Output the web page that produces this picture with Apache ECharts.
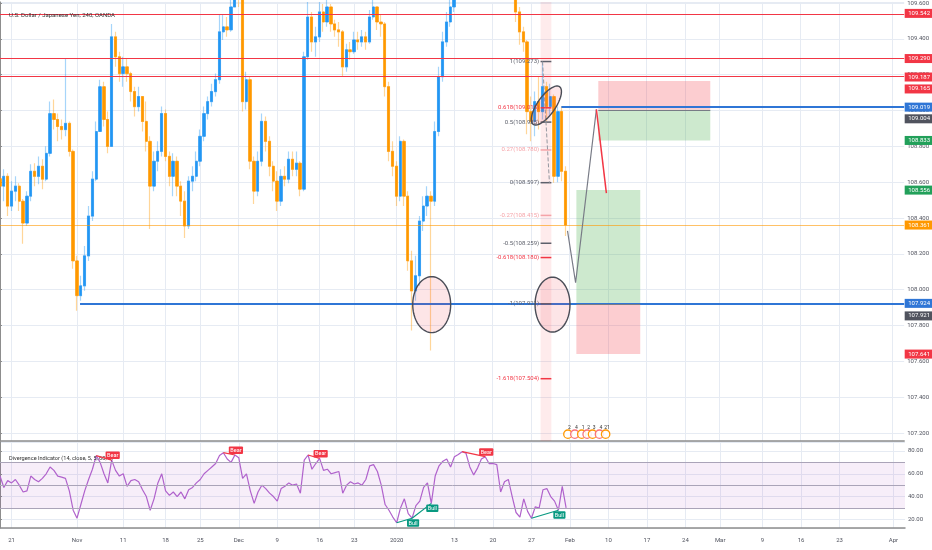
<!DOCTYPE html>
<html>
<head>
<meta charset="utf-8">
<script src="https://cdn.jsdelivr.net/npm/echarts@6.0.0/dist/echarts.min.js"></script>
<style>
html,body{margin:0;padding:0;background:#ffffff;}
#chart{width:932px;height:550px;}
</style>
</head>
<body>
<div id="chart"></div>
<script>
// ---------------- data ----------------
const closes = [
108.578,108.633,108.467,108.55,108.578,108.494,108.372,108.522,108.661,108.633,
108.689,108.617,108.761,108.983,108.95,108.911,108.894,108.928,108.772,108.161,
107.967,108.022,108.189,108.411,108.617,108.883,109.133,108.95,108.8,109.411,
109.3,109.206,109.244,109.206,109.106,109.022,109.078,108.939,108.828,108.578,
108.717,108.772,108.983,108.744,108.633,108.717,108.578,108.494,108.356,108.606,
108.633,108.717,108.856,108.983,109.05,109.106,109.172,109.439,109.467,109.45,
109.578,109.689,109.633,109.05,109.172,108.717,108.55,108.717,108.939,108.828,
108.689,108.606,108.494,108.633,108.617,108.728,108.672,108.706,108.561,109.3,
109.522,109.383,109.411,109.55,109.494,109.578,109.483,109.45,109.439,109.244,
109.339,109.328,109.394,109.383,109.411,109.383,109.522,109.578,109.494,109.483,
109.133,108.772,108.689,108.522,108.828,108.522,108.161,107.994,108.078,108.383,
108.467,108.522,108.494,108.883,109.189,109.383,109.494,109.578,109.661,109.772,
109.883,109.994,110.106,110.217,110.272,110.189,110.245,110.161,110.106,110.133,
110.05,109.939,109.828,109.717,109.55,109.439,109.383,108.994,108.939,109.05,
108.994,109.133,109.022,109.078,108.633,108.994,108.661,108.361];
const highs = [
108.661,108.672,108.65,108.606,108.633,108.594,108.506,108.55,108.7,108.706,
108.744,108.728,108.8,109.05,109.061,108.983,108.95,109.289,108.939,108.783,
108.189,108.078,108.244,108.467,108.661,108.939,109.172,109.161,108.994,109.483,
109.439,109.328,109.3,109.289,109.217,109.133,109.133,109.078,109.05,108.856,
108.772,108.828,109.022,109.006,108.772,108.761,108.744,108.606,108.55,108.633,
108.689,108.772,108.894,109.022,109.078,109.15,109.206,109.539,109.539,109.522,
109.633,109.772,109.744,109.65,109.217,109.189,108.744,108.772,108.983,108.967,
108.856,108.717,108.661,108.672,108.689,108.772,108.772,108.772,108.717,109.328,
109.606,109.55,109.467,109.606,109.594,109.617,109.594,109.506,109.494,109.45,
109.372,109.383,109.439,109.439,109.45,109.439,109.561,109.633,109.578,109.539,
109.494,109.161,108.828,108.717,108.856,108.839,108.55,108.217,108.189,108.411,
108.522,108.578,108.55,108.939,109.244,109.439,109.55,109.633,109.744,109.856,
109.967,110.078,110.189,110.3,110.317,110.3,110.3,110.261,110.189,110.189,
110.161,110.078,109.967,109.856,109.733,109.578,109.467,109.394,109.078,109.106,
109.189,109.273,109.161,109.15,109.09,109.022,109.022,108.689];
const lows = [
108.522,108.494,108.411,108.439,108.494,108.439,108.256,108.356,108.494,108.578,
108.589,108.561,108.606,108.744,108.894,108.828,108.839,108.856,108.744,108.117,
107.883,107.939,107.994,108.161,108.383,108.606,108.883,108.911,108.761,108.8,
109.244,109.161,109.133,109.161,109.05,108.967,108.994,108.883,108.772,108.339,
108.55,108.661,108.744,108.717,108.578,108.522,108.522,108.411,108.289,108.339,
108.55,108.606,108.689,108.828,108.95,109.022,109.078,109.15,109.394,109.411,
109.439,109.578,109.578,108.994,109.006,108.672,108.478,108.522,108.689,108.772,
108.633,108.55,108.439,108.467,108.578,108.594,108.633,108.633,108.522,108.55,
109.283,109.328,109.3,109.383,109.439,109.467,109.439,109.411,109.356,109.189,
109.217,109.283,109.317,109.339,109.356,109.339,109.372,109.506,109.45,109.411,
109.078,108.717,108.633,108.467,108.494,108.467,108.106,107.772,107.939,108.022,
108.328,108.411,107.661,108.467,108.856,109.161,109.356,109.467,109.55,109.661,
109.744,109.856,109.967,110.078,110.161,110.133,110.133,110.106,110.05,110.05,
109.994,109.883,109.772,109.661,109.494,109.367,109.328,108.867,108.828,108.856,
108.894,108.95,108.939,108.967,108.597,108.6,108.606,108.3];
const firstOpen = 108.62;

const rsiValues = [
58,48,54,52,55,50,44,45,58,55,
53,56,60,66,63,58,57,56,45,28,
21,33,45,55,64,76,70,60,52,72,
63,58,60,49,54,55,53,46,40,28,
38,52,60,45,41,44,40,44,38,46,
48,52,55,60,63,66,69,76,78.5,73,
70,76.5,74,56,60,45,34,44,50,47,
43,40,36,47,49,52,50,51,43,72,
76.5,64,69,73.5,63,64,60,61,62,43,
50,53,51,52,50,55,67,68,62,50,
33,28,22,17,30,38,25,21,32,36,
48,52,34,58,67,71,73,66,75,77,
79.4,78,66,59,65,73,75,69,69,68,
44,53,55,40,26,22,38,27,21,31,
30,46,47,40,36,28,49,30];

// time axis (bar slots, 2 per trading day)
const slotCount = 236;
const tickBars   = [3,20,32,43,52,62,72,83,92,103,118,128,138,148,158,168,178,187,198,208,218,232];
const tickLabels = ['21','Nov','11','18','25','Dec','9','16','23','2020','13','20','27','Feb','10','17','24','Mar','9','16','23','Apr'];

// drawings (in bar slots and prices)
const horizontalLevels = [109.542, 109.290, 109.187];
const lastPrice = 108.361;
const supportPrice = 107.924, supportFromBar = 20.8;
const resistancePrice = 109.019, resistanceFromBar = 145.9;
const shortBars = [155.5, 184.6], shortPrices = [109.165, 109.004, 108.833];
const longBars = [149.8, 166.4], longPrices = [108.556, 107.921, 107.641];
const highlightBars = [140.5, 143.3];
const fibHigh = 109.2734, fibLow = 108.5974;
const fibRatios = [1, 0.618, 0.5, 0.27, 0, -0.27, -0.5, -0.618, -1, -1.618];
const fibBars = [140.5, 143.3];
const fibAnchorBars = [141.0, 142.8];
const forecastBars = [147.5, 149.6, 155.0];
const forecastPrices = [108.328, 108.039, 109.006];
const targetBars = [155.0, 157.6];
const targetPrices = [109.006, 108.539];
const ellipseCenterBars = [112.2, 143.6, 142.0];
const ellipseCenterPrices = [107.917, 107.917, 109.028];
const ellipseRadiusBars = [4.93, 4.54, 5.97];
const ellipseRadiusPrices = [0.156, 0.153, 0.05];
const ellipseAngles = [0, 0, 55];
const tagPrices = [109.542, 109.290, 109.187, 109.165, 109.019, 109.004, 108.833, 108.556, 108.361, 107.924, 107.921, 107.641];
const divergenceFrom = [25, 58, 80, 120, 103, 107, 138];
const divergenceTo   = [29, 61, 83, 126, 107, 112, 145];
const divergenceKind = ['Bear','Bear','Bear','Bear','Bull','Bull','Bull'];
const eventBars = [147.6, 149.4, 151.2, 152.6, 154.0, 155.8, 157.4];
const eventDigits = ['2','4','1','2','3','4','21'];
const eventPrice = 107.194;

// ---------------- styles ----------------
const RED = '#f23645', BLUE = '#2f76d6', GRAY = '#50535e', GREEN = '#22a05a', ORANGE = '#ff9800';
const SALMON = '#f5a3a8', FIBGRAY = '#5d606b';
const tagColors = [RED, RED, RED, RED, BLUE, GRAY, GREEN, GREEN, ORANGE, BLUE, GRAY, RED];
const tagNudges = [0, 0, 0, 8, 0, 9, 0, 0, 0, 0, 12, 0];
const fibColors = [FIBGRAY, RED, FIBGRAY, SALMON, FIBGRAY, SALMON, FIBGRAY, RED, FIBGRAY, RED];
const FONT = 'Roboto, "Noto Sans", sans-serif';

// ---------------- build ----------------
const cats = Array.from({length: slotCount}, (_, i) => String(i));
const opens = closes.map((c, i) => i === 0 ? firstOpen : closes[i - 1]);
const candleData = closes.map((c, i) => {
  const o = opens[i];
  return [o, c, Math.min(lows[i], o, c), Math.max(highs[i], o, c)];
});
const bodyData = closes.map((c, i) => {
  const o = opens[i];
  return [o, c, Math.min(o, c), Math.max(o, c)];
});
const tickSet = new Set(tickBars);
const labelAt = {};
tickBars.forEach((b, i) => { labelAt[b] = tickLabels[i]; });
const gridLine = '#e6ebf3';

function renderEllipse(params, api) {
  const i = params.dataIndex;
  const c = api.coord([ellipseCenterBars[i], ellipseCenterPrices[i]]);
  const rx = api.size([ellipseRadiusBars[i], 0])[0];
  const ry = api.size([0, ellipseRadiusPrices[i]])[1];
  const th = ellipseAngles[i] * Math.PI / 180;
  const pts = [];
  for (let k = 0; k < 80; k++) {
    const t = k / 80 * Math.PI * 2;
    const ex = rx * Math.cos(t), ey = ry * Math.sin(t);
    pts.push([c[0] + ex * Math.cos(th) - ey * Math.sin(th), c[1] - (ex * Math.sin(th) + ey * Math.cos(th))]);
  }
  return {type: 'polygon', shape: {points: pts},
    style: {fill: 'rgba(242,54,69,0.13)', stroke: '#4a4d57', lineWidth: 1.4}};
}
function renderFib(params, api) {
  const i = params.dataIndex;
  const r = fibRatios[i];
  const price = fibLow + r * (fibHigh - fibLow);
  const a = api.coord([fibBars[0], price]);
  const b = api.coord([fibBars[1], price]);
  const col = fibColors[i];
  return {type: 'group', children: [
    {type: 'line', shape: {x1: a[0], y1: a[1], x2: b[0], y2: b[1]}, style: {stroke: col, lineWidth: 1.5}},
    {type: 'text', style: {text: r + '(' + price.toFixed(3) + ')', x: a[0] - 1.5, y: a[1], fill: col,
      fontSize: 6, fontFamily: FONT, align: 'right', verticalAlign: 'middle'}}
  ]};
}
function renderTag(params, api) {
  const i = params.dataIndex;
  const p = api.coord([slotCount - 1, tagPrices[i]]);
  const y = p[1] + tagNudges[i];
  return {type: 'group', children: [
    {type: 'rect', shape: {x: p[0] + 0.5, y: y - 4.5, width: 28, height: 9}, style: {fill: tagColors[i]}},
    {type: 'text', style: {text: tagPrices[i].toFixed(3), x: p[0] + 4, y: y, fill: '#ffffff',
      fontSize: 6, fontFamily: FONT, align: 'left', verticalAlign: 'middle'}}
  ]};
}
function renderDiv(params, api) {
  const i = params.dataIndex;
  const a = api.coord([divergenceFrom[i], rsiValues[divergenceFrom[i]]]);
  const b = api.coord([divergenceTo[i], rsiValues[divergenceTo[i]]]);
  const bear = divergenceKind[i] === 'Bear';
  const col = bear ? RED : '#089981';
  return {type: 'group', children: [
    {type: 'line', shape: {x1: a[0], y1: a[1], x2: b[0], y2: b[1]}, style: {stroke: col, lineWidth: 1.2}},
    {type: 'text', style: {text: divergenceKind[i], x: b[0] + 1, y: bear ? b[1] - 1 : b[1] + 1, fill: '#ffffff',
      fontSize: 5.5, fontFamily: FONT, align: 'center', verticalAlign: bear ? 'bottom' : 'top',
      backgroundColor: col, padding: [1, 1.5, 0.5, 1.5], borderRadius: 1}}
  ]};
}
function renderEvent(params, api) {
  const i = params.dataIndex;
  const p = api.coord([eventBars[i], eventPrice]);
  return {type: 'group', children: [
    {type: 'circle', shape: {cx: p[0], cy: p[1], r: 4.2},
      style: {fill: 'rgba(255,255,255,0.85)', stroke: i % 2 ? '#f7727c' : ORANGE, lineWidth: 1.3}},
    {type: 'text', style: {text: eventDigits[i], x: p[0] + 1.5, y: p[1] - 3.5, fill: '#333',
      fontSize: 5, fontFamily: FONT, align: 'center', verticalAlign: 'bottom'}}
  ]};
}

const chart = echarts.init(document.getElementById('chart'), null, {renderer: 'canvas'});
const option = {
  animation: false,
  backgroundColor: '#ffffff',
  textStyle: {fontFamily: FONT},
  title: [
    {text: 'U.S. Dollar / Japanese Yen, 240, OANDA', left: 4, top: 7,
      textStyle: {fontSize: 6, color: '#333', fontWeight: 'normal', fontFamily: FONT}},
    {text: 'Divergence Indicator (14, close, 5, 5, 60, 5)', left: 4, top: 451,
      textStyle: {fontSize: 5.6, color: '#333', fontWeight: 'normal', fontFamily: FONT}}
  ],
  grid: [
    {left: 0, right: 27, top: 0, height: 441},
    {left: 0, right: 27, top: 442, height: 86}
  ],
  xAxis: [
    {type: 'category', gridIndex: 0, data: cats, boundaryGap: false,
      axisLabel: {show: false}, axisTick: {show: false},
      axisLine: {lineStyle: {color: '#8d8d8d', width: 1.5}},
      splitLine: {show: true, interval: (i) => tickSet.has(i), lineStyle: {color: gridLine}}},
    {type: 'category', gridIndex: 1, data: cats, boundaryGap: false,
      axisLabel: {interval: (i) => tickSet.has(i), formatter: (v) => labelAt[+v] || '',
        fontSize: 6, color: '#50535e', margin: 9},
      axisTick: {show: false},
      axisLine: {lineStyle: {color: '#8d8d8d', width: 1.5}},
      splitLine: {show: true, interval: (i) => tickSet.has(i), lineStyle: {color: gridLine}}},
    {type: 'value', gridIndex: 0, min: 0, max: slotCount - 1, show: false},
    {type: 'value', gridIndex: 1, min: 0, max: slotCount - 1, show: false}
  ],
  yAxis: [
    {type: 'value', gridIndex: 0, position: 'right', min: 107.156, max: 109.606, splitNumber: 12,
      axisLine: {show: true, lineStyle: {color: '#8d8d8d'}},
      axisTick: {show: true, length: 2, lineStyle: {color: '#8d8d8d'}},
      axisLabel: {fontSize: 6, color: '#50535e', margin: 3, formatter: (v) => v.toFixed(3),
        showMinLabel: false, showMaxLabel: false},
      splitLine: {show: true, lineStyle: {color: gridLine}}},
    {type: 'value', gridIndex: 1, position: 'right', min: 12.4, max: 87.9, splitNumber: 4,
      axisLine: {show: true, lineStyle: {color: '#8d8d8d'}},
      axisTick: {show: true, length: 2, lineStyle: {color: '#8d8d8d'}},
      axisLabel: {fontSize: 6, color: '#50535e', margin: 3, formatter: (v) => v.toFixed(2),
        showMinLabel: false, showMaxLabel: false},
      splitLine: {show: true, lineStyle: {color: gridLine}}}
  ],
  series: [
    {name: 'areas', type: 'line', xAxisIndex: 2, yAxisIndex: 0, data: [], silent: true, z: 1,
      markArea: {silent: true, data: [
        [{xAxis: highlightBars[0], itemStyle: {color: 'rgba(242,54,69,0.1)'}}, {xAxis: highlightBars[1]}],
        [{xAxis: shortBars[0], yAxis: shortPrices[0], itemStyle: {color: 'rgba(242,54,69,0.25)'}}, {xAxis: shortBars[1], yAxis: shortPrices[1]}],
        [{xAxis: shortBars[0], yAxis: shortPrices[1], itemStyle: {color: 'rgba(76,175,80,0.28)'}}, {xAxis: shortBars[1], yAxis: shortPrices[2]}],
        [{xAxis: longBars[0], yAxis: longPrices[0], itemStyle: {color: 'rgba(76,175,80,0.28)'}}, {xAxis: longBars[1], yAxis: longPrices[1]}],
        [{xAxis: longBars[0], yAxis: longPrices[1], itemStyle: {color: 'rgba(242,54,69,0.25)'}}, {xAxis: longBars[1], yAxis: longPrices[2]}]
      ]}},
    {name: 'wicks', type: 'candlestick', xAxisIndex: 0, yAxisIndex: 0, data: candleData, barWidth: 2, clip: true, z: 3,
      itemStyle: {color: 'rgba(33,150,243,0.3)', color0: 'rgba(255,152,0,0.3)',
        borderColor: 'rgba(33,150,243,0.4)', borderColor0: 'rgba(255,152,0,0.4)', borderWidth: 1.2}},
    {name: 'bodies', type: 'candlestick', xAxisIndex: 0, yAxisIndex: 0, data: bodyData, barWidth: 2.8, clip: true, z: 4,
      itemStyle: {color: '#2196f3', color0: ORANGE, borderColor: '#2196f3', borderColor0: ORANGE, borderWidth: 0.6}},
    {name: 'levels', type: 'line', xAxisIndex: 2, yAxisIndex: 0, data: [], silent: true, z: 5,
      markLine: {silent: true, symbol: ['none', 'none'], label: {show: false}, data: [
        ...horizontalLevels.map(p => ({yAxis: p, lineStyle: {color: RED, width: 1.2, type: 'solid'}})),
        {yAxis: lastPrice, lineStyle: {color: 'rgba(255,152,0,0.6)', width: 1, type: 'solid'}},
        [{coord: [supportFromBar, supportPrice], lineStyle: {color: BLUE, width: 2, type: 'solid'}}, {coord: [slotCount - 1, supportPrice]}],
        [{coord: [resistanceFromBar, resistancePrice], lineStyle: {color: BLUE, width: 2, type: 'solid'}}, {coord: [slotCount - 1, resistancePrice]}],
        [{coord: [shortBars[0], shortPrices[1]], lineStyle: {color: '#787b86', width: 1, type: 'solid'}}, {coord: [shortBars[1], shortPrices[1]]}],
        [{coord: [longBars[0], longPrices[1]], lineStyle: {color: '#787b86', width: 1, type: 'solid'}}, {coord: [longBars[1], longPrices[1]]}]
      ]}},
    {name: 'fibAnchor', type: 'line', xAxisIndex: 2, yAxisIndex: 0, z: 6, symbol: 'none', silent: true,
      data: [[fibAnchorBars[0], fibHigh], [fibAnchorBars[1], fibLow]],
      lineStyle: {color: '#9598a1', width: 1, type: 'dashed'}},
    {name: 'fib', type: 'custom', xAxisIndex: 2, yAxisIndex: 0, z: 6, silent: true,
      data: fibRatios.map(r => [fibBars[0], fibLow + r * (fibHigh - fibLow)]), renderItem: renderFib},
    {name: 'forecast', type: 'line', xAxisIndex: 2, yAxisIndex: 0, z: 6, symbol: 'none', silent: true,
      data: forecastBars.map((b, i) => [b, forecastPrices[i]]), lineStyle: {color: '#787b86', width: 1.2}},
    {name: 'target', type: 'line', xAxisIndex: 2, yAxisIndex: 0, z: 6, symbol: 'none', silent: true,
      data: targetBars.map((b, i) => [b, targetPrices[i]]), lineStyle: {color: RED, width: 1.5}},
    {name: 'ellipses', type: 'custom', xAxisIndex: 2, yAxisIndex: 0, z: 7, silent: true,
      data: ellipseCenterBars.map((b, i) => [b, ellipseCenterPrices[i]]), renderItem: renderEllipse},
    {name: 'events', type: 'custom', xAxisIndex: 2, yAxisIndex: 0, z: 7, silent: true,
      data: eventBars.map(b => [b, eventPrice]), renderItem: renderEvent},
    {name: 'tags', type: 'custom', xAxisIndex: 2, yAxisIndex: 0, z: 10, silent: true, clip: false,
      data: tagPrices.map(p => [slotCount - 1, p]), renderItem: renderTag},
    {name: 'rsi', type: 'line', xAxisIndex: 1, yAxisIndex: 1, data: rsiValues, symbol: 'none', z: 4,
      lineStyle: {color: '#b062cc', width: 1.2}, silent: true,
      markArea: {silent: true, data: [[{yAxis: 30, itemStyle: {color: 'rgba(156,39,176,0.08)'}}, {yAxis: 70}]]},
      markLine: {silent: true, symbol: ['none', 'none'], label: {show: false},
        lineStyle: {color: '#aaa4b8', width: 1, type: 'solid'},
        data: [{yAxis: 70}, {yAxis: 50}, {yAxis: 30}]}},
    {name: 'divergence', type: 'custom', xAxisIndex: 3, yAxisIndex: 1, z: 8, silent: true, clip: false,
      data: divergenceFrom.map((b, i) => [b, rsiValues[b]]), renderItem: renderDiv}
  ]
};
chart.setOption(option);
</script>
</body>
</html>
